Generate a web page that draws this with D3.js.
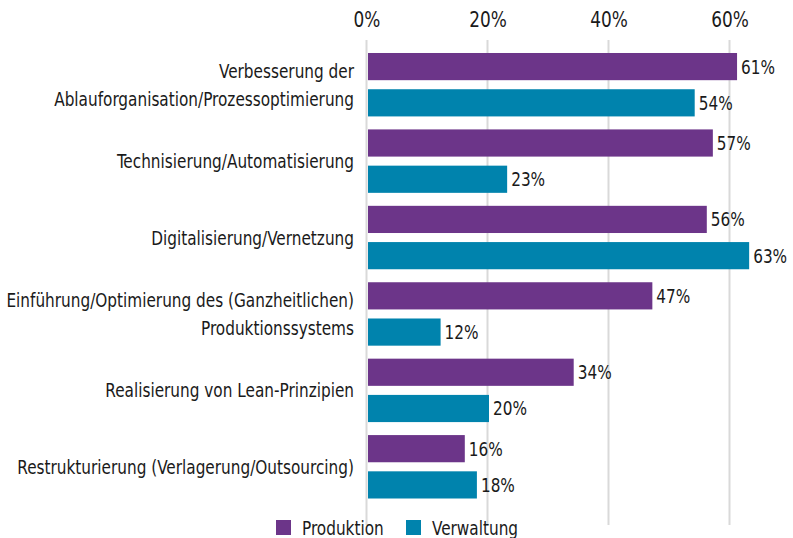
<!DOCTYPE html>
<html>
<head>
<meta charset="utf-8">
<script src="https://cdn.jsdelivr.net/npm/d3@7"></script>
<style>
  body { margin: 0; background: #fff; }
  svg text { font-family: "Liberation Sans Narrow", "DejaVu Sans Condensed", "Roboto", sans-serif; fill: #1a1a1a; }
</style>
</head>
<body>
<svg id="chart" width="793" height="538"></svg>
<script>
// Categories (label lines) and values per series, in percent
var categories = [
    ["Verbesserung der", "Ablauforganisation/Prozessoptimierung"],
    ["Technisierung/Automatisierung"],
    ["Digitalisierung/Vernetzung"],
    ["Einführung/Optimierung des (Ganzheitlichen)", "Produktionssystems"],
    ["Realisierung von Lean-Prinzipien"],
    ["Restrukturierung (Verlagerung/Outsourcing)"]
];
var produktion = [61, 57, 56, 47, 34, 16];
var verwaltung = [54, 23, 63, 12, 20, 18];
var seriesNames = ["Produktion", "Verwaltung"];
var tickValues = [0, 20, 40, 60];

var colors = ["#6c3589", "#0083ad"];
var fontSize = 19;

var svg = d3.select("#chart");

// The reference uses a narrow font; squeeze the installed one to match.
var probe = svg.append("text")
    .style("font-size", fontSize + "px")
    .text("Einführung/Optimierung des (Ganzheitlichen)");
var squeeze = 348 / probe.node().getComputedTextLength();
probe.remove();

// Draw a squeezed text at (x, y)
function addText(parent, x, y, str, anchor, size) {
    return parent.append("text")
        .attr("transform", "translate(" + x + "," + y + ") scale(" + squeeze + ",1)")
        .attr("text-anchor", anchor)
        .style("font-size", size + "px")
        .text(str);
}

var x = d3.scaleLinear().domain([0, 60]).range([367, 730]);

var y = d3.scaleBand()
    .domain(d3.range(categories.length))
    .range([46.5, 505])
    .paddingInner(0.17)
    .paddingOuter(0.085);

var sub = d3.scaleBand()
    .domain([0, 1])
    .range([0, y.bandwidth()])
    .paddingInner(0.25);

// Gridlines
svg.append("g")
    .selectAll("line")
    .data(tickValues)
    .join("line")
    .attr("x1", function(d) { return x(d) - 0.5; })
    .attr("x2", function(d) { return x(d) - 0.5; })
    .attr("y1", 40)
    .attr("y2", 525)
    .attr("stroke", "#d9d9d9")
    .attr("stroke-width", 2);

// Tick labels on top
var tickG = svg.append("g");
tickValues.forEach(function(d) {
    addText(tickG, x(d), 27, d + "%", "middle", 21);
});

// Bars
var rows = categories.map(function(c, i) {
    return [produktion[i], verwaltung[i]];
});

var groups = svg.append("g")
    .selectAll("g")
    .data(rows)
    .join("g")
    .attr("transform", function(d, i) { return "translate(0," + y(i) + ")"; });

groups.selectAll("rect")
    .data(function(d) { return d; })
    .join("rect")
    .attr("x", x(0) + 1)
    .attr("y", function(d, j) { return sub(j); })
    .attr("width", function(d) { return x(d) - x(0); })
    .attr("height", sub.bandwidth())
    .attr("fill", function(d, j) { return colors[j]; });

groups.each(function(d) {
    var g = d3.select(this);
    d.forEach(function(v, j) {
        addText(g, x(v) + 5, sub(j) + sub.bandwidth() / 2 + 7, v + "%", "start", fontSize);
    });
});

// Category labels
var labelG = svg.append("g");
categories.forEach(function(lines, i) {
    var cy = y(i) + y.bandwidth() / 2;
    lines.forEach(function(line, j) {
        var off = (j - (lines.length - 1) / 2) * 28;
        addText(labelG, 354, cy + off + 7, line, "end", fontSize);
    });
});

// Legend
var legend = svg.append("g");
var legendX = [276, 406];
seriesNames.forEach(function(name, i) {
    legend.append("rect")
        .attr("x", legendX[i])
        .attr("y", 520)
        .attr("width", 15)
        .attr("height", 15)
        .attr("fill", colors[i]);
    addText(legend, legendX[i] + 26, 535, name, "start", fontSize);
});
</script>
</body>
</html>
